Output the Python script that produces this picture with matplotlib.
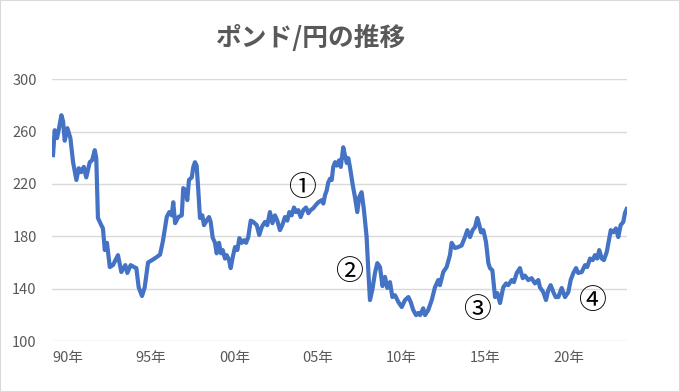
import matplotlib.pyplot as plt
from matplotlib.patches import Rectangle

plt.rcParams['font.family'] = ['Noto Sans CJK JP', 'DejaVu Sans']

# ポンド/円 の推移 (読み取り値, 年は小数)
years = [1990.06, 1990.16, 1990.30, 1990.42, 1990.56, 1990.66, 1990.76, 1990.92,
         1991.10, 1991.26, 1991.46, 1991.60, 1991.75, 1991.90, 1992.05, 1992.26,
         1992.40, 1992.56, 1992.65, 1992.75, 1992.95, 1993.05, 1993.16, 1993.29,
         1993.46, 1993.65, 1993.95, 1994.15, 1994.39, 1994.51, 1994.71, 1994.91,
         1995.05, 1995.19, 1995.39, 1995.55, 1995.75, 1995.99, 1996.25, 1996.47,
         1996.65, 1996.87, 1997.02, 1997.17, 1997.26, 1997.37, 1997.56, 1997.77,
         1997.86, 1998.01, 1998.10, 1998.20, 1998.37, 1998.46, 1998.56, 1998.66,
         1998.76, 1998.86, 1999.00, 1999.10, 1999.26, 1999.40, 1999.50, 1999.62,
         1999.76, 1999.86, 2000.00, 2000.12, 2000.22, 2000.36, 2000.46, 2000.60,
         2000.70, 2000.82, 2000.96, 2001.10, 2001.22, 2001.36, 2001.50, 2001.62,
         2001.75, 2001.90, 2002.05, 2002.26, 2002.41, 2002.56, 2002.75, 2002.89,
         2003.05, 2003.20, 2003.35, 2003.49, 2003.65, 2003.79, 2003.95, 2004.09,
         2004.21, 2004.35, 2004.49, 2004.61, 2004.75, 2004.89, 2005.05, 2005.21,
         2005.35, 2005.49, 2005.65, 2005.79, 2005.95, 2006.15, 2006.25, 2006.35,
         2006.45, 2006.54, 2006.65, 2006.75, 2006.84, 2006.95, 2007.05, 2007.19,
         2007.29, 2007.44, 2007.54, 2007.65, 2007.74, 2007.84, 2008.01, 2008.14,
         2008.28, 2008.40, 2008.54, 2008.68, 2008.84, 2008.94, 2009.04, 2009.18,
         2009.34, 2009.48, 2009.64, 2009.79, 2009.94, 2010.08, 2010.24, 2010.38,
         2010.54, 2010.74, 2010.94, 2011.14, 2011.34, 2011.48, 2011.63, 2011.80,
         2011.93, 2012.04, 2012.23, 2012.34, 2012.53, 2012.74, 2012.93, 2013.13,
         2013.23, 2013.43, 2013.63, 2013.83, 2013.93, 2014.13, 2014.33, 2014.53,
         2014.73, 2014.87, 2015.03, 2015.19, 2015.33, 2015.47, 2015.59, 2015.69,
         2015.83, 2015.99, 2016.13, 2016.23, 2016.37, 2016.53, 2016.67, 2016.83,
         2017.02, 2017.19, 2017.32, 2017.53, 2017.66, 2017.83, 2018.02, 2018.19,
         2018.32, 2018.52, 2018.72, 2018.92, 2019.12, 2019.22, 2019.42, 2019.58,
         2019.72, 2019.86, 2020.02, 2020.16, 2020.32, 2020.52, 2020.72, 2020.92,
         2021.06, 2021.22, 2021.38, 2021.51, 2021.72, 2021.92, 2022.05, 2022.22,
         2022.38, 2022.51, 2022.65, 2022.77, 2022.92, 2023.05, 2023.22, 2023.35,
         2023.46, 2023.61, 2023.77, 2023.91, 2024.05, 2024.21, 2024.31, 2024.41]
rates = [242, 261, 255, 262.6, 272.5, 268, 253, 262.6,
         255, 236.6, 223, 232, 229, 233, 225, 236.6,
         238, 245.8, 239.7, 194, 188.5, 186, 169.5, 175,
         156.5, 158, 165.6, 152.7, 158, 152, 158, 156.5,
         155.7, 141, 134.4, 141, 160, 161.8, 164, 166,
         177, 194.7, 198.5, 196, 206, 190, 194.7, 196,
         216.8, 215, 207.6, 223, 225, 233, 236.6, 234,
         215, 194, 196, 188.5, 192, 194.7, 191, 179,
         175, 167, 175, 167, 169.5, 163, 165.6, 161.8,
         155.7, 164, 171.8, 169.5, 178.6, 175, 177, 175,
         179.4, 192, 191, 188.5, 181, 187, 191, 188.5,
         198.5, 190, 196, 192, 184.7, 188.5, 194.7, 192,
         198.5, 196, 202, 198.5, 200, 194.7, 200, 202,
         197.7, 200, 201.5, 203.8, 206, 207.6, 205, 211.5,
         215, 221, 224, 223, 233, 236.6, 234, 238,
         233, 248, 242, 236, 239.7, 233, 219, 210,
         198.5, 210, 213.7, 200, 179.4, 154, 131.3, 139,
         152, 159.5, 156.5, 142, 149, 140.5, 145, 133.6,
         135, 129.8, 126, 131.3, 133.6, 129.8, 123.7, 119.8,
         121.4, 119.8, 125, 119.8, 123.7, 131.3, 141, 146.6,
         142.7, 152.7, 156.5, 165.6, 175, 171, 171.8, 173,
         179.4, 184.7, 179.4, 184.7, 187, 194, 188.5, 183,
         184.7, 175.6, 159.5, 155.7, 154, 133.6, 136.6, 129,
         141, 144, 142.7, 146.6, 145, 152, 155.7, 148,
         150, 146.6, 148, 144, 146.6, 141, 137.4, 131.3,
         139, 142.7, 137.4, 133.6, 133.6, 140.5, 133.6, 137.4,
         146.6, 152, 155.7, 152, 152.7, 158, 156.5, 163,
         161.8, 165.6, 163, 169.5, 163, 161.8, 168, 177,
         184.7, 183, 186, 179.4, 188.5, 191, 197.7, 200.8]

tick_years = [1990, 1995, 2000, 2005, 2010, 2015, 2020]
tick_labels = ['90年', '95年', '00年', '05年', '10年', '15年', '20年']
y_ticks = [100, 140, 180, 220, 260, 300]

# 丸数字の注記位置
marks = ['①', '②', '③', '④']
mark_x = [2004.95, 2007.78, 2015.43, 2022.34]
mark_y = [216.8, 152.7, 123.7, 130.8]

fig = plt.figure(figsize=(6.8, 3.92), dpi=100)
ax = fig.add_axes([0.0765, 0.130, 0.8455, 0.668])

ax.plot(years, rates, color='#4472C4', linewidth=3, solid_joinstyle='round')

ax.set_xlim(1990, 2024.43)
ax.set_ylim(100, 300)
ax.set_yticks(y_ticks)
ax.set_xticks(tick_years)
ax.set_xticklabels(tick_labels, ha='left')
ax.grid(axis='y', color='#d9d9d9', linewidth=1)
ax.set_axisbelow(True)
for s in ax.spines.values():
    s.set_visible(False)
ax.tick_params(length=0, labelsize=10.5, colors='#595959')
ax.tick_params(axis='y', pad=11)
ax.tick_params(axis='x', pad=7)

for m, mx, my in zip(marks, mark_x, mark_y):
    ax.text(mx, my, m, fontsize=20, ha='center', va='center', color='black')

fig.text(0.457, 0.903, 'ポンド/円の推移', fontsize=18.5, fontweight='bold',
         color='#595959', ha='center', va='center')

fig.patches.append(Rectangle((0, 0), 1, 1, transform=fig.transFigure, fill=False,
                             edgecolor='#d9d9d9', linewidth=1.5))

plt.savefig('out.png', dpi=100)
